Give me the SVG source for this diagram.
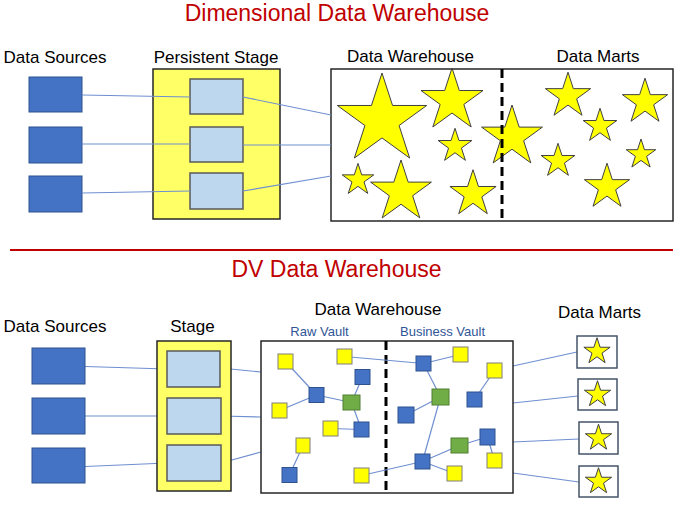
<svg xmlns="http://www.w3.org/2000/svg" xmlns:xlink="http://www.w3.org/1999/xlink" width="686" height="508" viewBox="0 0 686 508">
<style>
text{font-family:"Liberation Sans",Arial,sans-serif;fill:#000;text-anchor:middle}
.title{font-size:23px;fill:#c00000}
.lbl{font-size:17px}
.sub{font-size:13px;fill:#2f5597}
.src{fill:#4472c4;stroke:#2f528f;stroke-width:1}
.stage{fill:#ffff66;stroke:#262626;stroke-width:1.5}
.inner{fill:#bdd7ee;stroke:#595959;stroke-width:1.5}
.box{fill:#fff;stroke:#262626;stroke-width:1.5}
.dm{fill:#fff;stroke:#44546a;stroke-width:1.5}
.dash{stroke:#000;stroke-width:3;stroke-dasharray:9,5;fill:none}
.conn line{stroke:#6f8fd0;stroke-width:1.2;fill:none}
.y{fill:#ffff00;stroke:#7f7f7f;stroke-width:1}
.b{fill:#4472c4;stroke:#2f528f;stroke-width:1}
.g{fill:#70ad47;stroke:#507e32;stroke-width:1}
.st{fill:#ffff00;stroke:#404040;stroke-width:1;vector-effect:non-scaling-stroke}
</style>
<defs>
<path id="star" class="st" d="M0,-100 L22.45,-30.9 L95.11,-30.9 L36.33,11.8 L58.78,80.9 L0,38.2 L-58.78,80.9 L-36.33,11.8 L-95.11,-30.9 L-22.45,-30.9Z"/>
</defs>
<rect width="686" height="508" fill="#fff"/>

<!-- Top section -->
<text class="title" x="337" y="21">Dimensional Data Warehouse</text>
<text class="lbl" x="55" y="63">Data Sources</text>
<text class="lbl" x="216" y="63">Persistent Stage</text>
<text class="lbl" x="410.5" y="62">Data Warehouse</text>
<text class="lbl" x="598" y="62">Data Marts</text>

<g id="top-sources">
<rect class="src" x="29" y="77" width="53" height="35"/>
<rect class="src" x="29" y="127" width="53" height="36"/>
<rect class="src" x="29" y="176" width="53" height="36"/>
</g>
<g id="top-stage">
<rect class="stage" x="153" y="69" width="127" height="150"/>
<rect class="inner" x="190" y="79" width="53" height="35"/>
<rect class="inner" x="190" y="127" width="53" height="35"/>
<rect class="inner" x="190" y="173" width="53" height="36"/>
</g>
<g id="top-dw">
<rect class="box" x="331" y="69" width="342" height="152"/>
<use xlink:href="#star" transform="translate(382,120) scale(0.47)"/>
<use xlink:href="#star" transform="translate(452,100.6) scale(0.326)"/>
<use xlink:href="#star" transform="translate(455,146) scale(0.177)"/>
<use xlink:href="#star" transform="translate(512,137) scale(0.32)"/>
<use xlink:href="#star" transform="translate(358,180) scale(0.166)"/>
<use xlink:href="#star" transform="translate(401,192) scale(0.32)"/>
<use xlink:href="#star" transform="translate(473,194) scale(0.243)"/>
<use xlink:href="#star" transform="translate(568,96) scale(0.238)"/>
<use xlink:href="#star" transform="translate(645,102) scale(0.238)"/>
<use xlink:href="#star" transform="translate(600,126) scale(0.177)"/>
<use xlink:href="#star" transform="translate(558,161) scale(0.177)"/>
<use xlink:href="#star" transform="translate(641,154.5) scale(0.155)"/>
<use xlink:href="#star" transform="translate(607,187) scale(0.238)"/>
<line class="dash" x1="502" y1="69" x2="502" y2="221"/>
</g>
<g id="top-connectors" class="conn">
<line x1="82" y1="95" x2="190" y2="97"/>
<line x1="82" y1="144" x2="190" y2="144"/>
<line x1="82" y1="193" x2="190" y2="191"/>
<line x1="243" y1="97" x2="331" y2="115"/>
<line x1="243" y1="145" x2="331" y2="145"/>
<line x1="243" y1="191" x2="331" y2="176"/>
</g>

<line x1="10" y1="250" x2="673" y2="250" stroke="#c00000" stroke-width="2"/>

<!-- Bottom section -->
<text class="title" x="336.5" y="277">DV Data Warehouse</text>
<text class="lbl" x="55" y="332">Data Sources</text>
<text class="lbl" x="192.5" y="332">Stage</text>
<text class="lbl" x="378" y="315">Data Warehouse</text>
<text class="sub" x="319.5" y="336">Raw Vault</text>
<text class="sub" x="442.5" y="336">Business Vault</text>
<text class="lbl" x="599.5" y="318">Data Marts</text>

<g id="bottom-connectors" class="conn">
<line x1="85" y1="366.5" x2="167" y2="369"/>
<line x1="85" y1="416" x2="167" y2="416"/>
<line x1="85" y1="466.5" x2="167" y2="463"/>
<line x1="220" y1="368" x2="261" y2="372"/>
<line x1="221" y1="416" x2="261" y2="417"/>
<line x1="221" y1="463" x2="261" y2="452"/>
<line x1="513" y1="366" x2="577" y2="352"/>
<line x1="513" y1="403" x2="578" y2="396"/>
<line x1="513" y1="442" x2="579" y2="439"/>
<line x1="513" y1="473" x2="579" y2="482"/>
</g>

<g id="bottom-sources">
<rect class="src" x="32" y="348" width="53" height="36"/>
<rect class="src" x="32" y="398" width="53" height="36"/>
<rect class="src" x="32" y="448" width="53" height="35"/>
</g>
<g id="bottom-stage">
<rect class="stage" x="157" y="341" width="74" height="150"/>
<rect class="inner" x="167" y="351" width="53" height="36"/>
<rect class="inner" x="167" y="398" width="54" height="36"/>
<rect class="inner" x="167" y="445" width="54" height="36"/>
</g>
<g id="bottom-dw">
<rect class="box" x="261" y="341" width="252" height="152"/>
<line class="dash" x1="386" y1="341" x2="386" y2="493"/>
<g class="conn">
<line x1="285.5" y1="361.5" x2="316.5" y2="395"/>
<line x1="279.5" y1="410.5" x2="316.5" y2="395"/>
<line x1="316.5" y1="395" x2="351.5" y2="402.5"/>
<line x1="351.5" y1="402.5" x2="362.5" y2="377"/>
<line x1="351.5" y1="402.5" x2="361.5" y2="429.5"/>
<line x1="330.5" y1="428.5" x2="361.5" y2="429.5"/>
<line x1="303" y1="445.5" x2="289.5" y2="475"/>
<line x1="344.5" y1="356.5" x2="423.5" y2="363.5"/>
<line x1="423.5" y1="363.5" x2="460.5" y2="354.5"/>
<line x1="423.5" y1="363.5" x2="440.5" y2="397"/>
<line x1="440.5" y1="397" x2="406" y2="415"/>
<line x1="440.5" y1="397" x2="422.5" y2="461.5"/>
<line x1="494.5" y1="370.5" x2="474.5" y2="399.5"/>
<line x1="422.5" y1="461.5" x2="459.5" y2="445.5"/>
<line x1="459.5" y1="445.5" x2="487.5" y2="437"/>
<line x1="487.5" y1="437" x2="494.5" y2="460.5"/>
<line x1="422.5" y1="461.5" x2="454.5" y2="473.5"/>
<line x1="361.5" y1="475.5" x2="422.5" y2="461.5"/>
</g>
<rect class="y" x="278" y="354" width="15" height="15"/>
<rect class="y" x="337" y="349" width="15" height="15"/>
<rect class="b" x="355" y="369.5" width="15" height="15"/>
<rect class="b" x="309" y="387.5" width="15" height="15"/>
<rect class="y" x="272" y="403" width="15" height="15"/>
<rect class="g" x="343" y="395" width="17" height="15"/>
<rect class="y" x="323" y="421" width="15" height="15"/>
<rect class="b" x="354" y="422" width="15" height="15"/>
<rect class="y" x="296" y="438" width="14" height="15"/>
<rect class="b" x="282" y="467.5" width="15" height="15"/>
<rect class="y" x="354" y="468" width="15" height="15"/>
<rect class="b" x="416" y="356" width="15" height="15"/>
<rect class="y" x="453" y="347" width="15" height="15"/>
<rect class="y" x="487" y="363" width="15" height="15"/>
<rect class="g" x="432" y="389" width="17" height="16"/>
<rect class="b" x="467" y="392" width="15" height="15"/>
<rect class="b" x="398" y="407" width="16" height="16"/>
<rect class="b" x="480" y="429" width="15" height="16"/>
<rect class="g" x="451" y="438" width="17" height="15"/>
<rect class="b" x="415" y="454" width="15" height="15"/>
<rect class="y" x="487" y="453" width="15" height="15"/>
<rect class="y" x="447" y="466" width="15" height="15"/>
</g>
<g id="bottom-marts">
<rect class="dm" x="577" y="336" width="40" height="32"/>
<use xlink:href="#star" transform="translate(597,351.5) scale(0.138)"/>
<rect class="dm" x="578" y="379" width="39" height="31"/>
<use xlink:href="#star" transform="translate(597.5,394.5) scale(0.138)"/>
<rect class="dm" x="579" y="422" width="39" height="32"/>
<use xlink:href="#star" transform="translate(598.5,438) scale(0.138)"/>
<rect class="dm" x="579" y="466" width="39" height="31"/>
<use xlink:href="#star" transform="translate(598.5,481.5) scale(0.138)"/>
</g>
</svg>
